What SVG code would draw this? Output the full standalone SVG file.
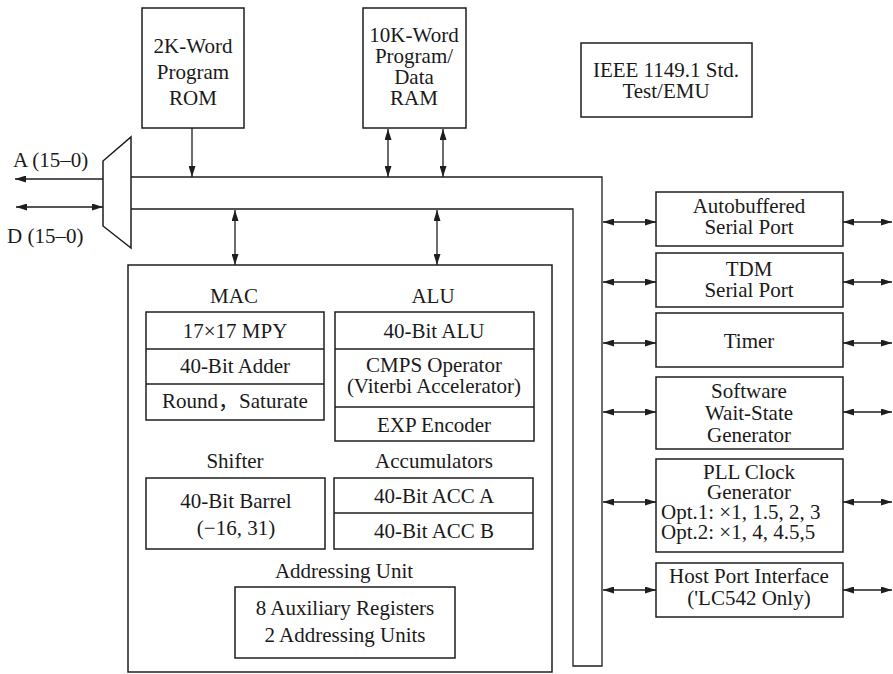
<svg xmlns="http://www.w3.org/2000/svg" width="893" height="674" viewBox="0 0 893 674">
<defs>
<style>
.box{fill:#fff;stroke:#1e1e1e;stroke-width:1.5}
.div{stroke:#1e1e1e;stroke-width:1.4;fill:none}
.ln{stroke:#1e1e1e;stroke-width:1.3;fill:none}
.t{font-family:"Liberation Serif","Noto Sans CJK SC",serif;font-size:21px;fill:#1a1a1a;text-anchor:middle}
.tl{font-family:"Liberation Serif","Noto Sans CJK SC",serif;font-size:21px;fill:#1a1a1a;text-anchor:start}
.a2{marker-start:url(#ah);marker-end:url(#ah)}
.a1{marker-end:url(#ah)}
</style>
<marker id="ah" markerUnits="userSpaceOnUse" markerWidth="11" markerHeight="7" refX="11" refY="3.5" orient="auto-start-reverse">
<path d="M0,0 L11,3.5 L0,7 z" fill="#1e1e1e"/>
</marker>
</defs>
<rect width="893" height="674" fill="#fff"/>

<g id="connectors">
<path class="ln" d="M131,177 H602 V666 H573 V209 H131"/>
<line class="ln a1" x1="103" y1="179" x2="15" y2="179"/>
<line class="ln a2" x1="16" y1="207" x2="103" y2="207"/>
<line class="ln a1" x1="192" y1="128" x2="192" y2="177"/>
<line class="ln a2" x1="388" y1="129" x2="388" y2="177"/>
<line class="ln a2" x1="443" y1="129" x2="443" y2="177"/>
<line class="ln a2" x1="235" y1="210" x2="235" y2="265"/>
<line class="ln a2" x1="437" y1="210" x2="437" y2="265"/>
<line class="ln a2" x1="603" y1="222" x2="656" y2="222"/>
<line class="ln a2" x1="843" y1="222" x2="892" y2="222"/>
<line class="ln a2" x1="603" y1="282" x2="656" y2="282"/>
<line class="ln a2" x1="843" y1="282" x2="892" y2="282"/>
<line class="ln a2" x1="603" y1="343" x2="656" y2="343"/>
<line class="ln a2" x1="843" y1="343" x2="892" y2="343"/>
<line class="ln a2" x1="603" y1="412" x2="656" y2="412"/>
<line class="ln a2" x1="843" y1="412" x2="892" y2="412"/>
<line class="ln a2" x1="603" y1="502" x2="656" y2="502"/>
<line class="ln a2" x1="843" y1="502" x2="892" y2="502"/>
<line class="ln a2" x1="603" y1="590" x2="656" y2="590"/>
<line class="ln a2" x1="843" y1="590" x2="892" y2="590"/>
</g>

<g id="rom">
<rect class="box" x="142" y="8" width="102" height="120"/>
<text class="t" x="193" y="53">2K-Word</text>
<text class="t" x="193" y="79">Program</text>
<text class="t" x="193" y="105">ROM</text>
</g>

<g id="ram">
<rect class="box" x="363" y="8" width="103" height="120"/>
<text class="t" x="414" y="42">10K-Word</text>
<text class="t" x="414" y="63">Program/</text>
<text class="t" x="414" y="84">Data</text>
<text class="t" x="414" y="105">RAM</text>
</g>

<g id="ieee">
<rect class="box" x="581" y="43" width="171" height="74"/>
<text class="t" x="666" y="77">IEEE 1149.1 Std.</text>
<text class="t" x="666" y="98">Test/EMU</text>
</g>

<g id="mux">
<path class="box" d="M103,161 L131,137 L131,248 L103,226 Z"/>
</g>

<g id="labels-ad">
<text class="tl" x="13" y="167">A (15–0)</text>
<text class="tl" x="7" y="243">D (15–0)</text>
</g>

<g id="cpu">
<rect class="box" x="128" y="265" width="424" height="407"/>
</g>

<g id="mac">
<text class="t" x="234" y="303">MAC</text>
<rect class="box" x="146" y="312" width="178" height="108"/>
<line class="div" x1="146" y1="349" x2="324" y2="349"/>
<line class="div" x1="146" y1="384" x2="324" y2="384"/>
<text class="t" x="235" y="338">17×17 MPY</text>
<text class="t" x="235" y="373">40-Bit Adder</text>
<text class="t" x="235" y="408">Round，Saturate</text>
</g>

<g id="alu">
<text class="t" x="433" y="303">ALU</text>
<rect class="box" x="335" y="312" width="199" height="129"/>
<line class="div" x1="335" y1="349" x2="534" y2="349"/>
<line class="div" x1="335" y1="407" x2="534" y2="407"/>
<text class="t" x="434" y="338">40-Bit ALU</text>
<text class="t" x="434" y="372">CMPS Operator</text>
<text class="t" x="434" y="393">(Viterbi Accelerator)</text>
<text class="t" x="434" y="432">EXP Encoder</text>
</g>

<g id="shifter">
<text class="t" x="235" y="468">Shifter</text>
<rect class="box" x="146" y="478" width="179" height="71"/>
<text class="t" x="236" y="508">40-Bit Barrel</text>
<text class="t" x="236" y="535">(−16, 31)</text>
</g>

<g id="accumulators">
<text class="t" x="434" y="468">Accumulators</text>
<rect class="box" x="334" y="478" width="199" height="71"/>
<line class="div" x1="334" y1="513" x2="533" y2="513"/>
<text class="t" x="434" y="503">40-Bit ACC A</text>
<text class="t" x="434" y="538">40-Bit ACC B</text>
</g>

<g id="addressing">
<text class="t" x="344" y="578">Addressing Unit</text>
<rect class="box" x="235" y="587" width="220" height="71"/>
<text class="t" x="345" y="615">8 Auxiliary Registers</text>
<text class="t" x="345" y="642">2 Addressing Units</text>
</g>

<g id="autobuffered">
<rect class="box" x="656" y="192" width="187" height="54"/>
<text class="t" x="749" y="213">Autobuffered</text>
<text class="t" x="749" y="234">Serial Port</text>
</g>

<g id="tdm">
<rect class="box" x="656" y="253" width="187" height="54"/>
<text class="t" x="749" y="276">TDM</text>
<text class="t" x="749" y="297">Serial Port</text>
</g>

<g id="timer">
<rect class="box" x="656" y="313" width="187" height="54"/>
<text class="t" x="749" y="348">Timer</text>
</g>

<g id="waitstate">
<rect class="box" x="656" y="377" width="187" height="72"/>
<text class="t" x="749" y="398">Software</text>
<text class="t" x="749" y="420">Wait-State</text>
<text class="t" x="749" y="442">Generator</text>
</g>

<g id="pll">
<rect class="box" x="656" y="459" width="187" height="93"/>
<text class="t" x="749" y="479">PLL Clock</text>
<text class="t" x="749" y="499">Generator</text>
<text class="tl" x="661" y="519">Opt.1: ×1, 1.5, 2, 3</text>
<text class="tl" x="661" y="539">Opt.2: ×1, 4, 4.5,5</text>
</g>

<g id="hpi">
<rect class="box" x="656" y="563" width="187" height="54"/>
<text class="t" x="749" y="583">Host Port Interface</text>
<text class="t" x="749" y="605">('LC542 Only)</text>
</g>
</svg>
